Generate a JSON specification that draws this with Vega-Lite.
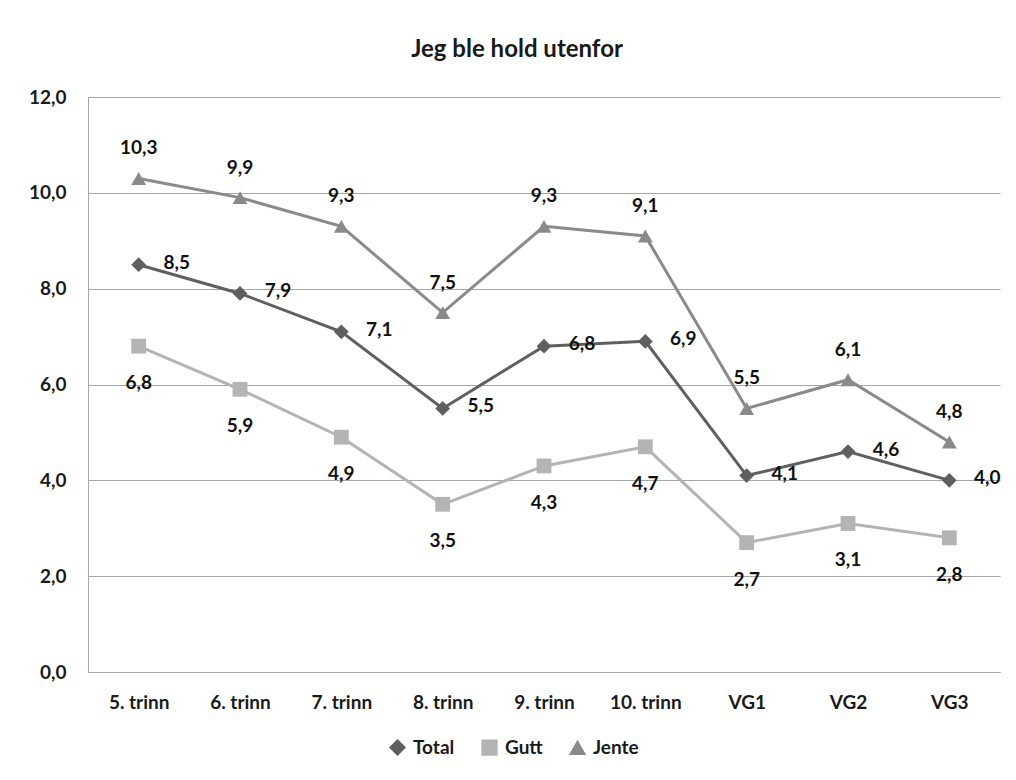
{
  "$schema": "https://vega.github.io/schema/vega-lite/v6.json",
  "autosize": "none",
  "width": 912,
  "height": 575,
  "padding": {"left": 88, "top": 97, "right": 16, "bottom": 108},
  "background": "white",
  "title": {"text": "Jeg ble hold utenfor", "fontSize": 24, "font": "Lato", "fontWeight": "bold", "color": "#1a1a1a", "anchor": "middle", "offset": 26, "dx": -27},
  "data": {"values": [
    {"trinn": "5. trinn", "serie": "Total", "verdi": 8.5},
    {"trinn": "6. trinn", "serie": "Total", "verdi": 7.9},
    {"trinn": "7. trinn", "serie": "Total", "verdi": 7.1},
    {"trinn": "8. trinn", "serie": "Total", "verdi": 5.5},
    {"trinn": "9. trinn", "serie": "Total", "verdi": 6.8},
    {"trinn": "10. trinn", "serie": "Total", "verdi": 6.9},
    {"trinn": "VG1", "serie": "Total", "verdi": 4.1},
    {"trinn": "VG2", "serie": "Total", "verdi": 4.6},
    {"trinn": "VG3", "serie": "Total", "verdi": 4.0},
    {"trinn": "5. trinn", "serie": "Gutt", "verdi": 6.8},
    {"trinn": "6. trinn", "serie": "Gutt", "verdi": 5.9},
    {"trinn": "7. trinn", "serie": "Gutt", "verdi": 4.9},
    {"trinn": "8. trinn", "serie": "Gutt", "verdi": 3.5},
    {"trinn": "9. trinn", "serie": "Gutt", "verdi": 4.3},
    {"trinn": "10. trinn", "serie": "Gutt", "verdi": 4.7},
    {"trinn": "VG1", "serie": "Gutt", "verdi": 2.7},
    {"trinn": "VG2", "serie": "Gutt", "verdi": 3.1},
    {"trinn": "VG3", "serie": "Gutt", "verdi": 2.8},
    {"trinn": "5. trinn", "serie": "Jente", "verdi": 10.3},
    {"trinn": "6. trinn", "serie": "Jente", "verdi": 9.9},
    {"trinn": "7. trinn", "serie": "Jente", "verdi": 9.3},
    {"trinn": "8. trinn", "serie": "Jente", "verdi": 7.5},
    {"trinn": "9. trinn", "serie": "Jente", "verdi": 9.3},
    {"trinn": "10. trinn", "serie": "Jente", "verdi": 9.1},
    {"trinn": "VG1", "serie": "Jente", "verdi": 5.5},
    {"trinn": "VG2", "serie": "Jente", "verdi": 6.1},
    {"trinn": "VG3", "serie": "Jente", "verdi": 4.8}
  ]},
  "encoding": {
    "x": {"field": "trinn", "type": "nominal", "sort": null, "title": null,
      "axis": {"labelAngle": 0, "labelFont": "Lato", "labelFontWeight": "bold", "labelFontSize": 19, "labelColor": "#1a1a1a", "labelPadding": 21, "ticks": false, "domainColor": "#a6a6a6", "grid": false}},
    "y": {"field": "verdi", "type": "quantitative", "title": null,
      "scale": {"domain": [0, 12]},
      "axis": {"values": [0, 2, 4, 6, 8, 10, 12], "format": ".1f", "labelFont": "Lato", "labelFontWeight": "bold", "labelFontSize": 19, "labelColor": "#1a1a1a", "labelPadding": 22, "ticks": false, "domainColor": "#a6a6a6", "gridColor": "#a6a6a6", "gridWidth": 1}},
    "color": {"field": "serie", "type": "nominal", "title": null,
      "scale": {"domain": ["Total", "Gutt", "Jente"], "range": ["#5f5f5f", "#b4b4b4", "#8a8a8a"]}}
  },
  "layer": [
    {"mark": {"type": "line", "strokeWidth": 3}},
    {"mark": {"type": "point", "filled": true, "opacity": 1, "size": 220},
      "encoding": {"shape": {"field": "serie", "type": "nominal", "title": null,
        "scale": {"domain": ["Total", "Gutt", "Jente"], "range": ["diamond", "square", "triangle-up"]},
        "legend": {"orient": "none", "legendX": 300, "legendY": 641, "direction": "horizontal", "padding": 0, "columnPadding": 24, "labelOffset": 6, "symbolSize": 220}}}},
    {"transform": [{"filter": "datum.serie === 'Jente'"}],
      "mark": {"type": "text", "dy": -30, "font": "Lato", "fontWeight": "bold", "fontSize": 19},
      "encoding": {"text": {"field": "verdi", "type": "quantitative", "format": ".1f"}, "color": {"value": "#111111"}}},
    {"transform": [{"filter": "datum.serie === 'Total'"}],
      "mark": {"type": "text", "dx": 38, "dy": -2, "font": "Lato", "fontWeight": "bold", "fontSize": 19},
      "encoding": {"text": {"field": "verdi", "type": "quantitative", "format": ".1f"}, "color": {"value": "#111111"}}},
    {"transform": [{"filter": "datum.serie === 'Gutt'"}],
      "mark": {"type": "text", "dy": 37, "font": "Lato", "fontWeight": "bold", "fontSize": 19},
      "encoding": {"text": {"field": "verdi", "type": "quantitative", "format": ".1f"}, "color": {"value": "#111111"}}}
  ],
  "config": {
    "locale": {"number": {"decimal": ",", "thousands": " ", "grouping": [3], "currency": ["", " kr"]}},
    "view": {"stroke": null},
    "legend": {"labelFont": "Lato", "labelFontWeight": "bold", "labelFontSize": 19, "labelColor": "#1a1a1a"}
  }
}
